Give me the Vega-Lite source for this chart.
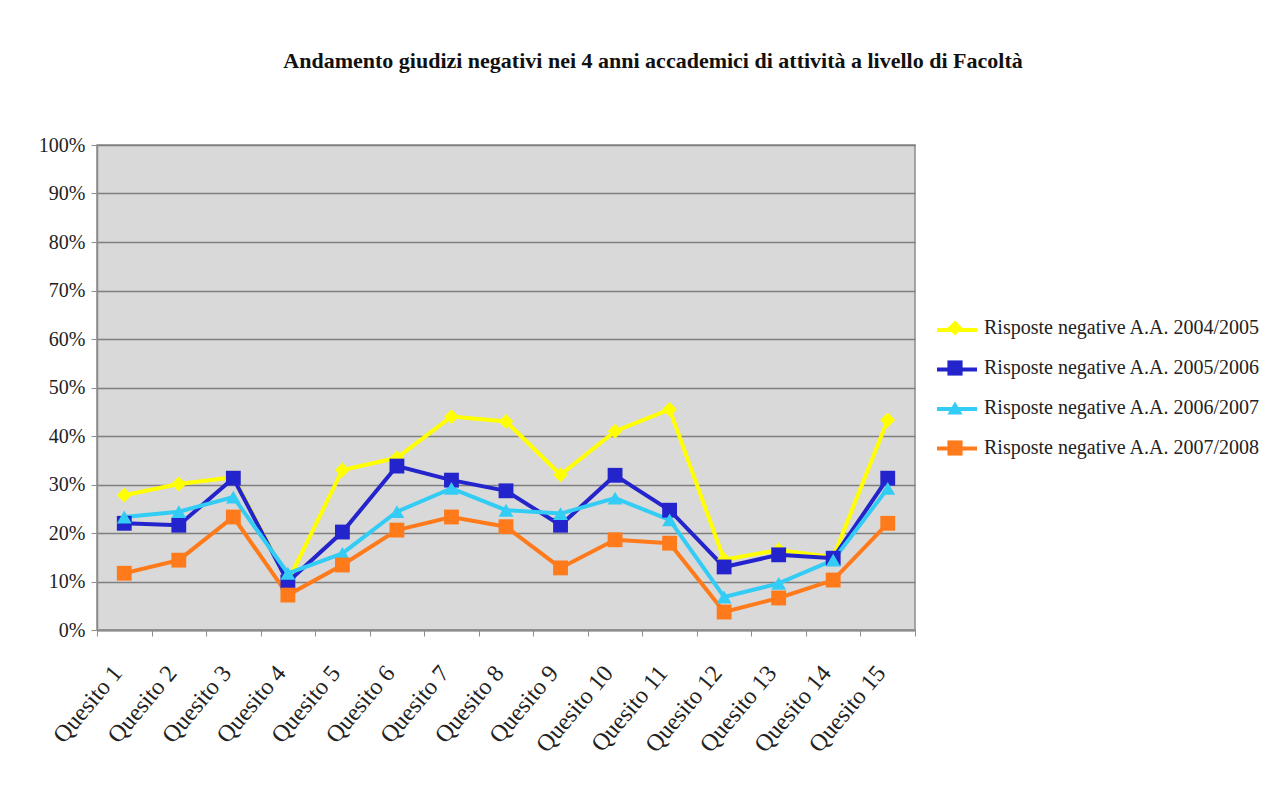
{
  "$schema": "https://vega.github.io/schema/vega-lite/v6.json",
  "width": 818,
  "height": 485,
  "autosize": {"type": "none"},
  "padding": {"left": 97, "top": 145, "right": 373, "bottom": 161},
  "background": "white",
  "title": {
    "text": "Andamento giudizi negativi nei 4 anni accademici di attività a livello di Facoltà",
    "font": "Liberation Serif",
    "fontSize": 22,
    "fontWeight": "bold",
    "color": "#111111",
    "anchor": "middle",
    "frame": "group",
    "dx": 147,
    "offset": 62
  },
  "config": {
    "font": "Liberation Serif",
    "view": {"fill": "#D9D9D9", "stroke": "#8C8C8C", "strokeWidth": 1.5}
  },
  "data": {
    "values": [
      {"q": "Quesito 1", "s": "Risposte negative A.A. 2004/2005", "v": 0.278},
      {"q": "Quesito 2", "s": "Risposte negative A.A. 2004/2005", "v": 0.301},
      {"q": "Quesito 3", "s": "Risposte negative A.A. 2004/2005", "v": 0.315},
      {"q": "Quesito 4", "s": "Risposte negative A.A. 2004/2005", "v": 0.10},
      {"q": "Quesito 5", "s": "Risposte negative A.A. 2004/2005", "v": 0.33},
      {"q": "Quesito 6", "s": "Risposte negative A.A. 2004/2005", "v": 0.355},
      {"q": "Quesito 7", "s": "Risposte negative A.A. 2004/2005", "v": 0.44},
      {"q": "Quesito 8", "s": "Risposte negative A.A. 2004/2005", "v": 0.43},
      {"q": "Quesito 9", "s": "Risposte negative A.A. 2004/2005", "v": 0.32},
      {"q": "Quesito 10", "s": "Risposte negative A.A. 2004/2005", "v": 0.41},
      {"q": "Quesito 11", "s": "Risposte negative A.A. 2004/2005", "v": 0.455},
      {"q": "Quesito 12", "s": "Risposte negative A.A. 2004/2005", "v": 0.145},
      {"q": "Quesito 13", "s": "Risposte negative A.A. 2004/2005", "v": 0.165},
      {"q": "Quesito 14", "s": "Risposte negative A.A. 2004/2005", "v": 0.15},
      {"q": "Quesito 15", "s": "Risposte negative A.A. 2004/2005", "v": 0.433},
      {"q": "Quesito 1", "s": "Risposte negative A.A. 2005/2006", "v": 0.22},
      {"q": "Quesito 2", "s": "Risposte negative A.A. 2005/2006", "v": 0.216},
      {"q": "Quesito 3", "s": "Risposte negative A.A. 2005/2006", "v": 0.313},
      {"q": "Quesito 4", "s": "Risposte negative A.A. 2005/2006", "v": 0.099},
      {"q": "Quesito 5", "s": "Risposte negative A.A. 2005/2006", "v": 0.202},
      {"q": "Quesito 6", "s": "Risposte negative A.A. 2005/2006", "v": 0.338},
      {"q": "Quesito 7", "s": "Risposte negative A.A. 2005/2006", "v": 0.309},
      {"q": "Quesito 8", "s": "Risposte negative A.A. 2005/2006", "v": 0.287},
      {"q": "Quesito 9", "s": "Risposte negative A.A. 2005/2006", "v": 0.216},
      {"q": "Quesito 10", "s": "Risposte negative A.A. 2005/2006", "v": 0.319},
      {"q": "Quesito 11", "s": "Risposte negative A.A. 2005/2006", "v": 0.247},
      {"q": "Quesito 12", "s": "Risposte negative A.A. 2005/2006", "v": 0.13},
      {"q": "Quesito 13", "s": "Risposte negative A.A. 2005/2006", "v": 0.155},
      {"q": "Quesito 14", "s": "Risposte negative A.A. 2005/2006", "v": 0.148},
      {"q": "Quesito 15", "s": "Risposte negative A.A. 2005/2006", "v": 0.313},
      {"q": "Quesito 1", "s": "Risposte negative A.A. 2006/2007", "v": 0.233},
      {"q": "Quesito 2", "s": "Risposte negative A.A. 2006/2007", "v": 0.244},
      {"q": "Quesito 3", "s": "Risposte negative A.A. 2006/2007", "v": 0.274},
      {"q": "Quesito 4", "s": "Risposte negative A.A. 2006/2007", "v": 0.117},
      {"q": "Quesito 5", "s": "Risposte negative A.A. 2006/2007", "v": 0.158},
      {"q": "Quesito 6", "s": "Risposte negative A.A. 2006/2007", "v": 0.244},
      {"q": "Quesito 7", "s": "Risposte negative A.A. 2006/2007", "v": 0.292},
      {"q": "Quesito 8", "s": "Risposte negative A.A. 2006/2007", "v": 0.247},
      {"q": "Quesito 9", "s": "Risposte negative A.A. 2006/2007", "v": 0.24},
      {"q": "Quesito 10", "s": "Risposte negative A.A. 2006/2007", "v": 0.272},
      {"q": "Quesito 11", "s": "Risposte negative A.A. 2006/2007", "v": 0.227},
      {"q": "Quesito 12", "s": "Risposte negative A.A. 2006/2007", "v": 0.068},
      {"q": "Quesito 13", "s": "Risposte negative A.A. 2006/2007", "v": 0.096},
      {"q": "Quesito 14", "s": "Risposte negative A.A. 2006/2007", "v": 0.144},
      {"q": "Quesito 15", "s": "Risposte negative A.A. 2006/2007", "v": 0.292},
      {"q": "Quesito 1", "s": "Risposte negative A.A. 2007/2008", "v": 0.117},
      {"q": "Quesito 2", "s": "Risposte negative A.A. 2007/2008", "v": 0.144},
      {"q": "Quesito 3", "s": "Risposte negative A.A. 2007/2008", "v": 0.233},
      {"q": "Quesito 4", "s": "Risposte negative A.A. 2007/2008", "v": 0.072},
      {"q": "Quesito 5", "s": "Risposte negative A.A. 2007/2008", "v": 0.134},
      {"q": "Quesito 6", "s": "Risposte negative A.A. 2007/2008", "v": 0.206},
      {"q": "Quesito 7", "s": "Risposte negative A.A. 2007/2008", "v": 0.233},
      {"q": "Quesito 8", "s": "Risposte negative A.A. 2007/2008", "v": 0.213},
      {"q": "Quesito 9", "s": "Risposte negative A.A. 2007/2008", "v": 0.128},
      {"q": "Quesito 10", "s": "Risposte negative A.A. 2007/2008", "v": 0.186},
      {"q": "Quesito 11", "s": "Risposte negative A.A. 2007/2008", "v": 0.179},
      {"q": "Quesito 12", "s": "Risposte negative A.A. 2007/2008", "v": 0.037},
      {"q": "Quesito 13", "s": "Risposte negative A.A. 2007/2008", "v": 0.066},
      {"q": "Quesito 14", "s": "Risposte negative A.A. 2007/2008", "v": 0.103},
      {"q": "Quesito 15", "s": "Risposte negative A.A. 2007/2008", "v": 0.22}
    ]
  },
  "encoding": {
    "x": {
      "field": "q",
      "type": "nominal",
      "sort": null,
      "scale": {"type": "band", "paddingInner": 0, "paddingOuter": 0},
      "axis": {
        "title": null,
        "labelAngle": -50,
        "labelAlign": "right",
        "labelBaseline": "top",
        "labelFont": "Liberation Serif",
        "labelFontSize": 24,
        "labelColor": "#222222",
        "labelPadding": 25,
        "labelOffset": -16,
        "tickBand": "extent",
        "tickSize": 6,
        "tickColor": "#8C8C8C",
        "domainColor": "#8C8C8C",
        "domainWidth": 2,
        "grid": false
      }
    },
    "y": {
      "field": "v",
      "type": "quantitative",
      "scale": {"domain": [0, 1], "nice": false, "zero": true},
      "axis": {
        "title": null,
        "values": [0, 0.1, 0.2, 0.3, 0.4, 0.5, 0.6, 0.7, 0.8, 0.9, 1],
        "format": ".0%",
        "labelFont": "Liberation Serif",
        "labelFontSize": 20,
        "labelColor": "#222222",
        "labelPadding": 6,
        "tickSize": 6,
        "tickColor": "#8C8C8C",
        "domainColor": "#8C8C8C",
        "domainWidth": 1.5,
        "grid": true,
        "gridColor": "#7F7F7F",
        "gridWidth": 1.5
      }
    }
  },
  "layer": [
    {
      "mark": {"type": "line", "strokeWidth": 4},
      "encoding": {
        "stroke": {
          "field": "s",
          "type": "nominal",
          "scale": {"range": ["#FFFF00", "#2424CC", "#33CCF5", "#FF7A1A"]},
          "legend": {
            "title": null,
            "orient": "none",
            "legendX": 838,
            "legendY": 163,
            "padding": 0,
            "rowPadding": 7.5,
            "symbolType": "stroke",
            "symbolSize": 1600,
            "symbolStrokeWidth": 4,
            "labelFont": "Liberation Serif",
            "labelFontSize": 20,
            "labelOpacity": 0,
            "labelOffset": 10,
            "labelLimit": 400,
            "zindex": 1
          }
        }
      }
    },
    {
      "mark": {"type": "point", "filled": true, "opacity": 1, "size": 220},
      "encoding": {
        "color": {
          "field": "s",
          "type": "nominal",
          "scale": {
            "domain": ["Risposte negative A.A. 2004/2005", "Risposte negative A.A. 2005/2006", "Risposte negative A.A. 2006/2007", "Risposte negative A.A. 2007/2008"],
            "range": ["#FFFF00", "#2424CC", "#33CCF5", "#FF7A1A"]
          },
          "legend": {
            "title": null,
            "orient": "none",
            "legendX": 848,
            "legendY": 173,
            "padding": 0,
            "rowPadding": 20,
            "symbolSize": 230,
            "labelFont": "Liberation Serif",
            "labelFontSize": 20,
            "labelColor": "#222222",
            "labelOffset": 19,
            "labelLimit": 400,
            "zindex": 2
          }
        },
        "shape": {
          "field": "s",
          "type": "nominal",
          "scale": {
            "domain": ["Risposte negative A.A. 2004/2005", "Risposte negative A.A. 2005/2006", "Risposte negative A.A. 2006/2007", "Risposte negative A.A. 2007/2008"],
            "range": ["diamond", "square", "triangle-up", "square"]
          },
          "legend": null
        }
      }
    }
  ]
}
